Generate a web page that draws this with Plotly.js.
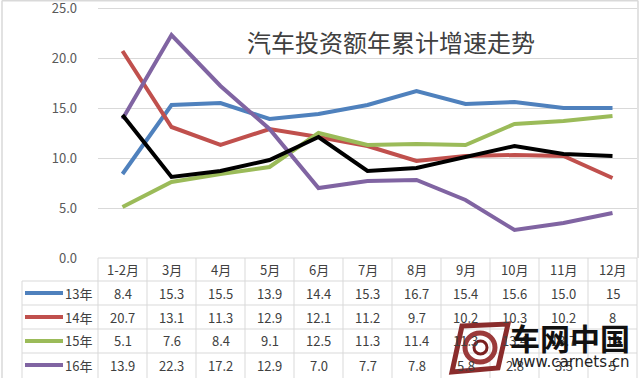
<!DOCTYPE html>
<html>
<head>
<meta charset="utf-8">
<script src="https://cdn.plot.ly/plotly-3.0.1.min.js"></script>
<style>html,body{margin:0;padding:0;background:#fff;}#chart{width:640px;height:378px;}</style>
</head>
<body>
<div id="chart"></div>
<script>
const categories = ['1-2月','3月','4月','5月','6月','7月','8月','9月','10月','11月','12月'];
const seriesNames = ['13年','14年','15年','16年'];
const y13 = [8.4, 15.3, 15.5, 13.9, 14.4, 15.3, 16.7, 15.4, 15.6, 15.0, 15];
const y14 = [20.7, 13.1, 11.3, 12.9, 12.1, 11.2, 9.7, 10.2, 10.3, 10.2, 8];
const y15 = [5.1, 7.6, 8.4, 9.1, 12.5, 11.3, 11.4, 11.3, 13.4, 13.7, 14.2];
const y16 = [13.9, 22.3, 17.2, 12.9, 7.0, 7.7, 7.8, 5.8, 2.8, 3.5, 4.5];
const y17 = [14.3, 8.1, 8.7, 9.8, 12.1, 8.7, 9.0, 10.1, 11.2, 10.4, 10.2];
const yTicks = [0, 5, 10, 15, 20, 25];
const yTickText = ['0.0', '5.0', '10.0', '15.0', '20.0', '25.0'];
const titleText = '汽车投资额年累计增速走势';

const colors = ['#4f81bd', '#c0504d', '#9bbb59', '#8064a2'];
const tableSeries = [y13, y14, y15, y16];

const FONT = '"Noto Sans CJK SC", "Noto Sans", sans-serif';
const traces = [];
tableSeries.forEach((ys, i) => {
  traces.push({x: categories, y: ys, type: 'scatter', mode: 'lines', name: seriesNames[i],
    line: {color: colors[i], width: 4}, showlegend: false, hoverinfo: 'skip'});
});
traces.push({x: categories, y: y17, type: 'scatter', mode: 'lines', name: '17年',
  line: {color: '#000000', width: 4}, showlegend: false, hoverinfo: 'skip'});

// pixel -> paper helpers (plot area 98..637 x, 5..258 y)
const L = 98, R = 3, T = 5, B = 120, W = 640, H = 378;
const pw = W - L - R, ph = H - T - B;
const px = v => (v - L) / pw;
const py = v => (T + ph - v) / ph;

const gridC = '#d9d9d9';
const shapes = [];
const annotations = [];
const rowLines = [258, 281, 305, 329, 353];
rowLines.forEach((yy, k) => {
  shapes.push({type: 'line', xref: 'paper', yref: 'paper', x0: k === 0 ? 0 : px(22), x1: 1, y0: py(yy), y1: py(yy), line: {color: gridC, width: 1}});
});
for (let k = 0; k <= categories.length; k++) {
  shapes.push({type: 'line', xref: 'paper', yref: 'paper', x0: k / categories.length, x1: k / categories.length, y0: py(258), y1: py(380), line: {color: gridC, width: 1}});
}
shapes.push({type: 'line', xref: 'paper', yref: 'paper', x0: px(22), x1: px(22), y0: py(281), y1: py(380), line: {color: gridC, width: 1}});
// outer border
shapes.push({type: 'line', xref: 'paper', yref: 'paper', x0: px(2), x1: px(2), y0: py(0.5), y1: py(380), line: {color: gridC, width: 1.5}});
shapes.push({type: 'line', xref: 'paper', yref: 'paper', x0: px(2), x1: px(638), y0: py(0.8), y1: py(0.8), line: {color: gridC, width: 1.5}});
shapes.push({type: 'line', xref: 'paper', yref: 'paper', x0: px(638), x1: px(638), y0: py(0.5), y1: py(258), line: {color: gridC, width: 1.5}});

categories.forEach(c => {
  annotations.push({xref: 'x', yref: 'paper', x: c, y: py(269.5), text: c, showarrow: false,
    font: {family: FONT, size: 13, color: '#404040'}, xanchor: 'center', yanchor: 'middle'});
});
const rowCenters = [293, 317, 341, 365];
tableSeries.forEach((ys, i) => {
  const yc = py(rowCenters[i]);
  shapes.push({type: 'line', xref: 'paper', yref: 'paper', x0: px(25), x1: px(63), y0: yc, y1: yc, line: {color: colors[i], width: 4}});
  annotations.push({xref: 'paper', yref: 'paper', x: px(94), y: yc, text: seriesNames[i], showarrow: false,
    font: {family: FONT, size: 13, color: '#404040'}, xanchor: 'right', yanchor: 'middle'});
  ys.forEach((v, j) => {
    const label = j === categories.length - 1 ? String(Math.round(v)) : v.toFixed(1);
    annotations.push({xref: 'x', yref: 'paper', x: categories[j], y: yc, text: label, showarrow: false,
      font: {family: FONT, size: 13, color: '#404040'}, xanchor: 'center', yanchor: 'middle'});
  });
});

// watermark
const lg = (a, b) => px(a) + ',' + py(b);
shapes.push({type: 'path', xref: 'paper', yref: 'paper',
  path: 'M' + lg(462, 326) + ' L' + lg(508, 324) + ' L' + lg(498, 368) + ' L' + lg(452, 372) + ' Z',
  line: {color: '#8a2c2c', width: 5}, fillcolor: 'rgba(0,0,0,0)'});
shapes.push({type: 'circle', xref: 'paper', yref: 'paper', x0: px(465), x1: px(495), y0: py(333), y1: py(362),
  line: {color: '#9b3a3a', width: 5}, fillcolor: 'rgba(0,0,0,0)'});
shapes.push({type: 'circle', xref: 'paper', yref: 'paper', x0: px(474), x1: px(487), y0: py(341), y1: py(354),
  line: {color: '#7a2020', width: 3}, fillcolor: 'rgba(0,0,0,0)'});
annotations.push({xref: 'paper', yref: 'paper', x: px(570), y: py(337), text: '车网中国', showarrow: false,
  font: {family: FONT, size: 30, color: '#111111', weight: 700}, xanchor: 'center', yanchor: 'middle'});
annotations.push({xref: 'paper', yref: 'paper', x: px(570), y: py(362), text: 'www.carnets.cn', showarrow: false,
  font: {family: '"DejaVu Sans", sans-serif', size: 15, color: '#222222'}, xanchor: 'center', yanchor: 'middle'});

const layout = {
  width: W, height: H,
  margin: {l: L, r: R, t: T, b: B, pad: 0},
  paper_bgcolor: '#ffffff', plot_bgcolor: '#ffffff',
  title: {text: titleText, font: {family: FONT, size: 24, color: '#404040'},
    xref: 'container', yref: 'container', x: 391 / W, y: 1 - 44 / H, xanchor: 'center', yanchor: 'middle'},
  xaxis: {type: 'category', range: [-0.5, categories.length - 0.5], showgrid: false, showticklabels: false,
    zeroline: false, showline: false, ticks: '', fixedrange: true},
  yaxis: {range: [0, 25.3], tickvals: yTicks, ticktext: yTickText, showgrid: true, gridcolor: gridC, gridwidth: 1,
    zeroline: false, showline: false, ticks: '', ticklabelstandoff: 20, ticklabeloverflow: 'allow',
    tickfont: {family: FONT, size: 13, color: '#595959'}, fixedrange: true},
  shapes: shapes,
  annotations: annotations
};
Plotly.newPlot('chart', traces, layout, {displayModeBar: false, staticPlot: true});
</script>
</body>
</html>
